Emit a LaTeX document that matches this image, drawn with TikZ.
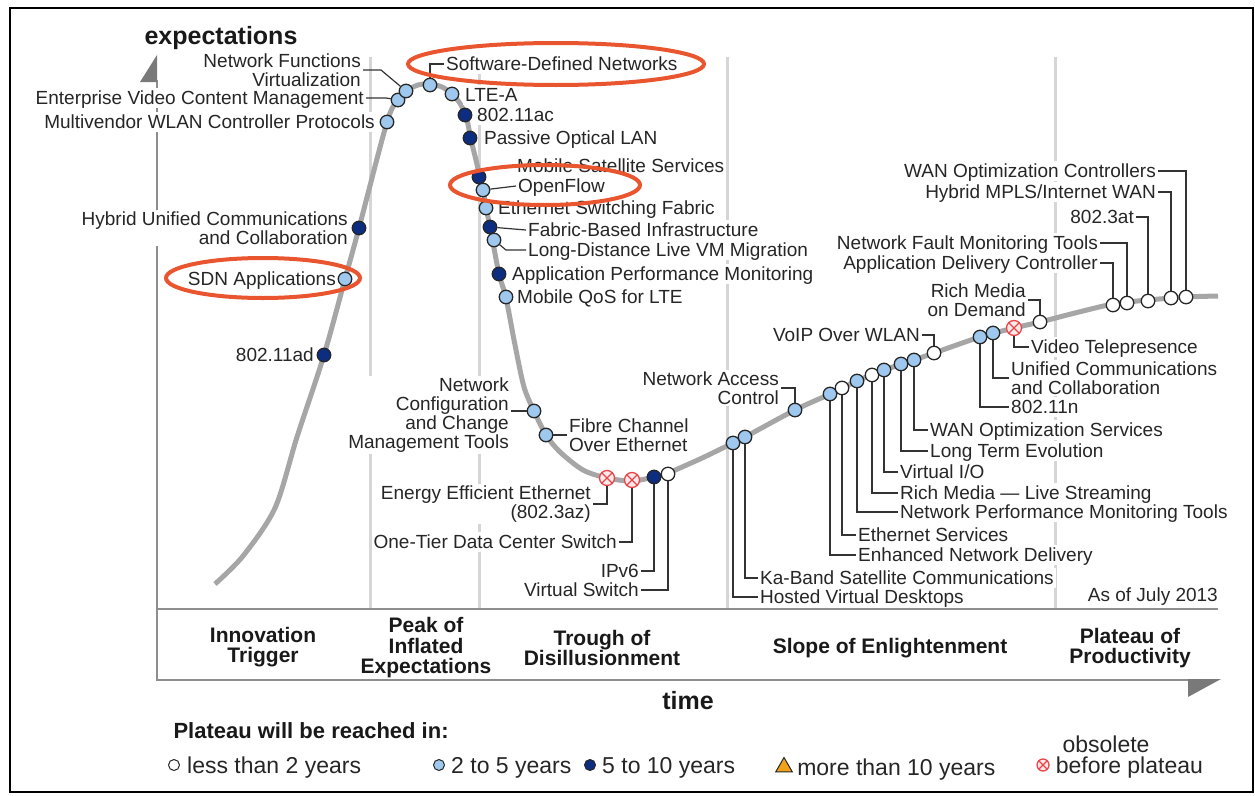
\documentclass[tikz,border=0pt]{standalone}
\usepackage{fontspec}
\setmainfont{Liberation Sans}
\usetikzlibrary{positioning,shapes.geometric}
\definecolor{crv}{HTML}{A6A6A6}
\definecolor{grd}{HTML}{D6D6D6}
\definecolor{axs}{HTML}{8E8E8E}
\definecolor{lblue}{HTML}{9FC8EE}
\definecolor{navy}{HTML}{0C2D80}
\definecolor{obred}{HTML}{E8464A}
\definecolor{amber}{HTML}{F2A31B}
\definecolor{ringc}{HTML}{E9552F}
\newcommand\lbfont{\fontsize{19}{19}\selectfont}
\newcommand\phfont{\fontsize{21}{20.5}\selectfont\bfseries}
\newcommand\lgfont{\fontsize{23}{23}\selectfont}
\begin{document}
\begin{tikzpicture}[x=1pt,y=-1pt,
  dot/.style={circle,draw=black!85,line width=1.3pt,minimum size=13.5pt,inner sep=0pt},
  lt/.style={dot,fill=white},
  tf/.style={dot,fill=lblue},
  ft/.style={dot,fill=navy},
  ob/.style={dot,draw=obred,fill=obred!12,minimum size=15pt,path picture={\draw[obred,line width=1.3pt]
    (path picture bounding box.south west) -- (path picture bounding box.north east)
    (path picture bounding box.north west) -- (path picture bounding box.south east);}},
  lb/.style={font=\lbfont,text=black!85,inner xsep=2pt,inner ysep=0pt,fill=white,text height=16.5pt,text depth=3.5pt},
  lbm/.style={font=\lbfont,text=black!85,inner sep=2pt,fill=white},
  cn/.style={draw=black!80,line width=1.2pt},
  ph/.style={font=\phfont,text=black!90,align=center},
  ring/.style={draw=ringc,line width=4pt},
  lgd/.style={circle,draw=black!85,line width=1pt,minimum size=11pt,inner sep=0pt},
  tri/.style={regular polygon,regular polygon sides=3,draw=black!85,fill=amber,line width=1pt,minimum size=19pt,inner sep=0pt},
  lgt/.style={font=\lgfont,text=black!85,inner sep=1pt,yshift=-2.5pt}]
\useasboundingbox (0,0) rectangle (1255,795);
\draw[line width=2pt] (10,8) rectangle (1253,792);

\foreach \gx in {370,479,727,1055}
  \draw[grd,line width=3pt] (\gx,57) -- (\gx,609);
\draw[axs,line width=2pt] (157,80) -- (157,680) -- (1189,680);
\draw[axs,line width=2pt] (157,609) -- (1218,609);
\fill[axs!85!black] (157,55) -- (157,82) -- (140,82) -- cycle;
\fill[axs!85!black] (1188,679) -- (1221,679) -- (1188,697) -- cycle;

\draw[crv,line width=5pt] plot[smooth,tension=.5] coordinates {
  (215,584) (243,556) (275,508) (297,437) (324,355) (345,279) (359,228)
  (387,122) (398,100) (406,91) (418,85) (430,84) (442,87) (452,94) (461,105)
  (467,120) (471,140) (476,160) (480,178) (484,195) (487,212) (491,232)
  (499,274) (506,298) (515,345) (524,387) (534,411) (546,435) (560,452)
  (583,470) (607,478) (632,481) (654,477) (668,473) (700,459) (733,443)
  (745,437) (795,410) (830,394) (857,381) (884,370) (914,360) (934,353)
  (980,337) (1014,328) (1040,322) (1075,313) (1113,304) (1148,300)
  (1186,297) (1218,296)};

\node[lb,anchor=east] (adl) at (316,355) {802.11ad};
\node[ft] (ad) at (324,355) {};
\node[lb,anchor=east] (sdnl) at (338,279) {SDN Applications};
\node[tf] (sdn) at (345,279) {};
\node[lbm,anchor=east,align=right] (hucl) at (350,228) {Hybrid Unified Communications\\and Collaboration};
\node[ft] (huc) at (359,228) {};
\node[lb,anchor=east] (mwcl) at (377,122) {Multivendor WLAN Controller Protocols};
\node[tf] (mwc) at (387,122) {};
\node[lb,anchor=east] (evcl) at (366,98) {Enterprise Video Content Management};
\node[tf] (evc) at (398,100) {};
\draw[cn] (evcl.east) -- ++(20,0) -- (evc);
\node[lbm,anchor=east,align=right] (nfvl) at (363,70) {Network Functions\\Virtualization};
\node[tf] (nfv) at (406,91) {};
\draw[cn] (nfvl.east) -- ++(18,0) -- (nfv);

\node[lb,anchor=west] (sdnwl) at (444,64) {Software-Defined Networks};
\node[tf] (sdnw) at (430,85) {};
\draw[cn] (sdnw) |- (sdnwl.west);
\node[lb,anchor=west] (ltal) at (463,95) {LTE-A};
\node[tf] (lta) at (452,94) {};
\node[lb,anchor=west] (accl) at (475,115) {802.11ac};
\node[ft] (acc) at (465,115) {};
\node[lb,anchor=west] (poll) at (482,138) {Passive Optical LAN};
\node[ft] (pol) at (470,138) {};
\node[lb,anchor=west] (mssl) at (515,166) {Mobile Satellite Services};
\node[ft] (mss) at (479,177) {};
\node[lb,anchor=west] (ofll) at (516,186) {OpenFlow};
\node[tf] (ofl) at (483,190) {};
\draw[cn] (ofl) -- (ofll.west);
\node[lb,anchor=west] (esfl) at (496,208) {Ethernet Switching Fabric};
\node[tf] (esf) at (486,208) {};
\node[lb,anchor=west] (fbil) at (526,230) {Fabric-Based Infrastructure};
\node[ft] (fbi) at (490,227) {};
\draw[cn] (fbi) -- (fbil.west);
\node[lb,anchor=west] (ldml) at (526,250) {Long-Distance Live VM Migration};
\node[tf] (ldm) at (494,240) {};
\draw[cn] (ldm) -- ++(12,10) -- (ldml.west);
\node[lb,anchor=west] (apml) at (510,274) {Application Performance Monitoring};
\node[ft] (apm) at (499,274) {};
\node[lb,anchor=west] (mqsl) at (515,297) {Mobile QoS for LTE};
\node[tf] (mqs) at (506,297) {};

\node[lbm,anchor=east,align=right] (nccl) at (511,415) {Network\\Configuration\\and Change\\Management Tools};
\node[tf] (ncc) at (534,411) {};
\draw[cn] (nccl.east |- ncc) -- (ncc);
\node[lbm,anchor=west,align=left] (fcol) at (567,435) {Fibre Channel\\Over Ethernet};
\node[tf] (fco) at (546,435) {};
\draw[cn] (fco) -- (fcol.west);
\node[lbm,anchor=east,align=right] (eeel) at (593,504) {Energy Efficient Ethernet\\(802.3az)};
\node[ob] (eee) at (607,478) {};
\draw[cn] (eee) |- (eeel.east);
\node[lb,anchor=east] (otdl) at (619,542) {One-Tier Data Center Switch};
\node[ob] (otd) at (632,480) {};
\draw[cn] (otd) |- (otdl.east);
\node[lb,anchor=east] (ipvl) at (641,571) {IPv6};
\node[ft] (ipv) at (654,477) {};
\draw[cn] (ipv) |- (ipvl.east);
\node[lb,anchor=east] (vswl) at (641,590) {Virtual Switch};
\node[lt] (vsw) at (668,474) {};
\draw[cn] (vsw) |- (vswl.east);

\node[lb,anchor=west] (hvdl) at (758,597) {Hosted Virtual Desktops};
\node[tf] (hvd) at (733,443) {};
\draw[cn] (hvd) |- (hvdl.west);
\node[lb,anchor=west] (kabl) at (758,578) {Ka-Band Satellite Communications};
\node[tf] (kab) at (745,437) {};
\draw[cn] (kab) |- (kabl.west);
\node[lbm,anchor=east,align=right] (nacl) at (781,388) {Network Access\\Control};
\node[tf] (nac) at (795,410) {};
\draw[cn] (nacl.east) -| (nac);
\node[lb,anchor=west] (enhl) at (856,555) {Enhanced Network Delivery};
\node[tf] (enh) at (830,394) {};
\draw[cn] (enh) |- (enhl.west);
\node[lb,anchor=west] (ethl) at (856,535) {Ethernet Services};
\node[lt] (eth) at (842,388) {};
\draw[cn] (eth) |- (ethl.west);
\node[lb,anchor=west] (npml) at (898,512) {Network Performance Monitoring Tools};
\node[tf] (npm) at (857,381) {};
\draw[cn] (npm) |- (npml.west);
\node[lb,anchor=west] (rmll) at (898,493) {Rich Media — Live Streaming};
\node[lt] (rml) at (872,375) {};
\draw[cn] (rml) |- (rmll.west);
\node[lb,anchor=west] (viol) at (898,472) {Virtual I/O};
\node[tf] (vio) at (884,370) {};
\draw[cn] (vio) |- (viol.west);
\node[lb,anchor=west] (ltel) at (928,451) {Long Term Evolution};
\node[tf] (lte) at (901,364) {};
\draw[cn] (lte) |- (ltel.west);
\node[lb,anchor=west] (wosl) at (928,430) {WAN Optimization Services};
\node[tf] (wos) at (914,360) {};
\draw[cn] (wos) |- (wosl.west);
\node[lb,anchor=east] (voipl) at (922,335) {VoIP Over WLAN};
\node[lt] (voip) at (934,353) {};
\draw[cn] (voipl.east) -| (voip);
\node[lb,anchor=west] (n11l) at (1009,407) {802.11n};
\node[tf] (n11) at (980,337) {};
\draw[cn] (n11) |- (n11l.west);
\node[lbm,anchor=west,align=left] (uccl) at (1009,378) {Unified Communications\\and Collaboration};
\node[tf] (ucc) at (993,333) {};
\draw[cn] (ucc) |- (uccl.west);
\node[lb,anchor=west] (vtpl) at (1029,347) {Video Telepresence};
\node[ob] (vtp) at (1014,328) {};
\draw[cn] (vtp) |- (vtpl.west);
\node[lbm,anchor=east,align=right] (rmdl) at (1028,300) {Rich Media\\on Demand};
\node[lt] (rmd) at (1040,322) {};
\draw[cn] (rmdl.east) -| (rmd);

\node[lb,anchor=east] (adcl) at (1100,263) {Application Delivery Controller};
\node[lt] (adc) at (1113,305) {};
\draw[cn] (adcl.east) -| (adc);
\node[lb,anchor=east] (nfml) at (1100,243) {Network Fault Monitoring Tools};
\node[lt] (nfm) at (1127,303) {};
\draw[cn] (nfml.east) -| (nfm);
\node[lb,anchor=east] (p3tl) at (1136,217) {802.3at};
\node[lt] (p3t) at (1148,301) {};
\draw[cn] (p3tl.east) -| (p3t);
\node[lb,anchor=east] (hmwl) at (1158,192) {Hybrid MPLS/Internet WAN};
\node[lt] (hmw) at (1171,298) {};
\draw[cn] (hmwl.east) -| (hmw);
\node[lb,anchor=east] (wocl) at (1158,171) {WAN Optimization Controllers};
\node[lt] (woc) at (1186,297) {};
\draw[cn] (wocl.east) -| (woc);

\node[lb,anchor=east,fill=none] (asof) at (1220,595) {As of July 2013};

\draw[ring] (263,278) ellipse [x radius=97,y radius=20];
\draw[ring] (556,64) ellipse [x radius=148,y radius=21];
\draw[ring] (545,185) ellipse [x radius=95,y radius=20];

\node[font=\fontsize{25}{25}\selectfont\bfseries,text=black!90] (expc) at (221,38) {expectations};
\node[font=\fontsize{25}{25}\selectfont\bfseries,text=black!90] (time) at (688,701) {time};

\node[ph] (itr) at (263,647) {Innovation\\Trigger};
\node[ph] (pie) at (426,648) {Peak of\\Inflated\\Expectations};
\node[ph] (tod) at (602,648) {Trough of\\Disillusionment};
\node[ph] (soe) at (890,648) {Slope of Enlightenment};
\node[ph] (pop) at (1130,648) {Plateau of\\Productivity};

\node[font=\fontsize{22}{22}\selectfont\bfseries,text=black!90,anchor=west] (lgh) at (170,731) {Plateau will be reached in:};
\node[lgd,fill=white] (lg1) at (174,765) {};
\node[lgt,right=6pt of lg1] (lg1t) {less than 2 years};
\node[lgd,fill=lblue] (lg2) at (439,765) {};
\node[lgt,right=5pt of lg2] (lg2t) {2 to 5 years};
\node[lgd,fill=navy] (lg3) at (590,765) {};
\node[lgt,right=5pt of lg3] (lg3t) {5 to 10 years};
\node[tri] (lg4) at (784,767) {};
\node[lgt,right=6pt of lg4] (lg4t) {more than 10 years};
\node[ob,minimum size=12pt] (lg5) at (1043,765) {};
\node[lgt,right=5pt of lg5] (lg5t) {before plateau};
\node[lgt] (obs) at (1106,742) {obsolete};
\end{tikzpicture}
\end{document}
